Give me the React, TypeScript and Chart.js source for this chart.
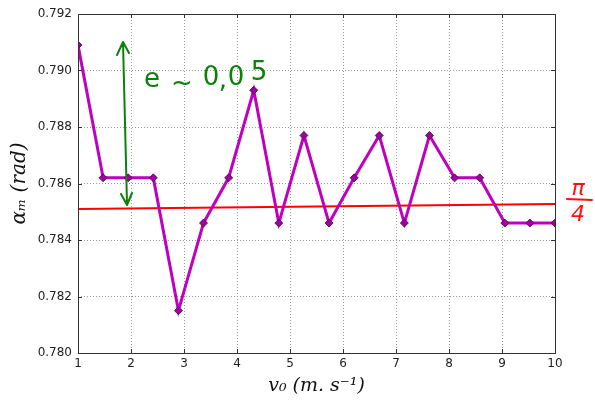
import React, { useEffect, useRef } from "react";
import { Chart, registerables } from "chart.js";

Chart.register(...registerables);

const v0Values = [1, 1.474, 1.947, 2.421, 2.895, 3.368, 3.842, 4.316, 4.789, 5.263, 5.737, 6.211, 6.684, 7.158, 7.632, 8.105, 8.579, 9.053, 9.526, 10];
const alphaValues = [0.7909, 0.7862, 0.7862, 0.7862, 0.7815, 0.7846, 0.7862, 0.7893, 0.7846, 0.7877, 0.7846, 0.7862, 0.7877, 0.7846, 0.7877, 0.7862, 0.7862, 0.7846, 0.7846, 0.7846];
const refX = [1, 10];
const refY = [0.7851, 0.78527];
const xTicks = [1, 2, 3, 4, 5, 6, 7, 8, 9, 10];
const yTicks = [0.78, 0.782, 0.784, 0.786, 0.788, 0.79, 0.792];

const framePlugin = {
  id: "frame",
  afterDatasetsDraw(chart: any) {
    const { ctx, chartArea: a } = chart;
    ctx.save();
    ctx.strokeStyle = "#333";
    ctx.lineWidth = 1;
    ctx.strokeRect(a.left + 0.5, a.top + 0.5, a.right - a.left, a.bottom - a.top);
    const xs = chart.scales.x;
    const ys = chart.scales.y;
    ctx.beginPath();
    for (const t of xTicks) {
      const px = Math.round(xs.getPixelForValue(t)) + 0.5;
      ctx.moveTo(px, a.bottom); ctx.lineTo(px, a.bottom - 4);
      ctx.moveTo(px, a.top); ctx.lineTo(px, a.top + 4);
    }
    for (const t of yTicks) {
      const py = Math.round(ys.getPixelForValue(t)) + 0.5;
      ctx.moveTo(a.left, py); ctx.lineTo(a.left + 4, py);
      ctx.moveTo(a.right, py); ctx.lineTo(a.right - 4, py);
    }
    ctx.stroke();
    ctx.restore();
  },
  afterDraw(chart: any) {
    const { ctx } = chart;
    ctx.save();
    ctx.strokeStyle = "#0a820a";
    ctx.fillStyle = "#0a820a";
    ctx.lineWidth = 2;
    ctx.lineCap = "round";
    ctx.lineJoin = "round";
    ctx.beginPath();
    ctx.moveTo(123, 42); ctx.lineTo(127, 204);
    ctx.moveTo(117, 55); ctx.lineTo(123, 42); ctx.lineTo(129, 53);
    ctx.moveTo(121, 194); ctx.lineTo(127, 205); ctx.lineTo(132, 193);
    ctx.stroke();
    ctx.font = "26px 'DejaVu Sans'";
    ctx.textBaseline = "alphabetic";
    ctx.textAlign = "center";
    ctx.fillText("e", 152, 87);
    ctx.fillText("~", 182, 91);
    ctx.fillText("0", 211, 85);
    ctx.fillText(",", 223, 88);
    ctx.fillText("0", 236, 85);
    ctx.fillText("5", 259, 80);
    ctx.fillStyle = "#ff1010";
    ctx.strokeStyle = "#ff1010";
    ctx.font = "italic 22px 'DejaVu Sans'";
    ctx.fillText("π", 578, 195);
    ctx.beginPath();
    ctx.moveTo(567, 199); ctx.lineTo(592, 200);
    ctx.stroke();
    ctx.fillText("4", 578, 221);
    ctx.restore();
  },
};

export default function App() {
  const ref = useRef<HTMLCanvasElement>(null);
  useEffect(() => {
    const chart = new Chart(ref.current!, {
      type: "scatter",
      data: {
        datasets: [
          {
            data: refX.map((x, i) => ({ x, y: refY[i] })),
            showLine: true,
            borderColor: "#ff0000",
            borderWidth: 2,
            pointRadius: 0,
            order: 2,
          },
          {
            data: v0Values.map((x, i) => ({ x, y: alphaValues[i] })),
            showLine: true,
            borderColor: "#bf00bf",
            borderWidth: 3,
            pointStyle: "rectRot",
            pointRadius: 4,
            pointBackgroundColor: "#a000a0",
            pointBorderColor: "#4a004a",
            pointBorderWidth: 0.8,
            order: 1,
          },
        ],
      },
      options: {
        animation: false,
        responsive: false,
        layout: { padding: { left: 0, top: 14, right: 40, bottom: 0 } },
        plugins: { legend: { display: false }, tooltip: { enabled: false } },
        scales: {
          x: {
            type: "linear",
            min: 1,
            max: 10,
            afterBuildTicks: (s: any) => { s.ticks = xTicks.map((v) => ({ value: v })); },
            afterFit: (s: any) => { s.height = 50; },
            ticks: { color: "#222", font: { family: "DejaVu Sans", size: 12 }, padding: 4 },
            grid: { color: "#999", lineWidth: 1, drawTicks: false },
            border: { display: false, dash: [1, 2] },
            title: {
              display: true,
              text: "v₀ (m. s⁻¹)",
              color: "#111",
              font: { family: "DejaVu Serif", size: 19, style: "italic" },
              padding: { top: 0, bottom: 6 },
            },
          },
          y: {
            type: "linear",
            min: 0.78,
            max: 0.792,
            afterBuildTicks: (s: any) => { s.ticks = yTicks.map((v) => ({ value: v })); },
            afterFit: (s: any) => { s.width = 78; },
            ticks: {
              color: "#222",
              font: { family: "DejaVu Sans", size: 12 },
              padding: 6,
              callback: (v: any) => Number(v).toFixed(3),
            },
            grid: { color: "#999", lineWidth: 1, drawTicks: false },
            border: { display: false, dash: [1, 2] },
            title: {
              display: true,
              text: "αₘ (rad)",
              color: "#111",
              font: { family: "DejaVu Serif", size: 20, style: "italic" },
              padding: { top: 8, bottom: 0 },
            },
          },
        },
      },
      plugins: [framePlugin],
    } as any);
    return () => chart.destroy();
  }, []);
  return (
    <div style={{ position: "fixed", left: 0, top: 0, width: 595, height: 403, background: "#fff" }}>
      <canvas ref={ref} width={595} height={403} />
    </div>
  );
}
